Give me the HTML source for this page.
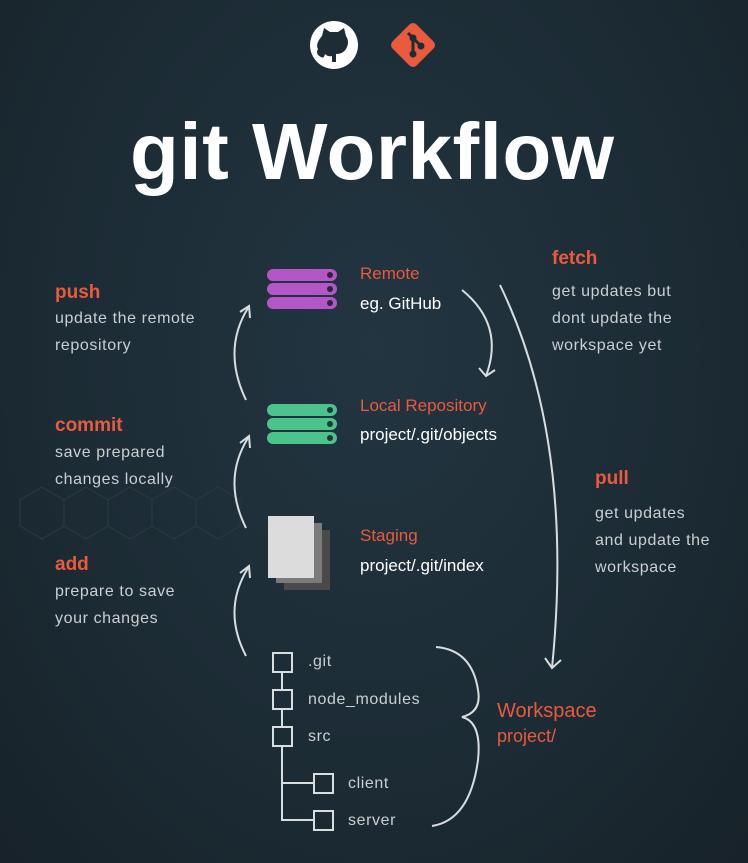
<!DOCTYPE html>
<html><head><meta charset="utf-8"><style>
html,body{margin:0;padding:0}
body{width:748px;height:863px;position:relative;overflow:hidden;background:radial-gradient(ellipse at 50% 40%,#223541 0%,#1c2b34 60%,#172229 100%);font-family:"Liberation Sans",sans-serif}
.t{position:absolute;white-space:nowrap}
.o{color:#ea5a3c;font-weight:bold;font-size:19px}
.g{color:#c9cfd3;font-size:16px;line-height:27px;letter-spacing:0.6px}
.w{color:#fff;font-size:17px}
.lo{color:#ea5a3c;font-size:17px}
</style></head><body>
<svg width="748" height="863" style="position:absolute;left:0;top:0">
<circle cx="334" cy="45" r="24" fill="#fff"/>
<path d="M322 36 l2-8 6 4 h8 l6-4 2 8 q4 6 0 13 q-3 5-10 5 v8 h-4 v-6 q-4 1-7-2 q-1 5 -4 3 q-6-3-3-8 q-3-5 4-13z" fill="#1e2c35"/>
<rect x="396" y="28" width="34" height="34" rx="5" fill="#ea5a3c" transform="rotate(45 413 45)"/>
<path d="M408 33 L413 38 V54 M413 38 L421 46" stroke="#1e2c35" stroke-width="3" fill="none"/>
<circle cx="413" cy="38" r="3.5" fill="#1e2c35"/><circle cx="413" cy="54" r="3.5" fill="#1e2c35"/><circle cx="421" cy="46" r="3.5" fill="#1e2c35"/>
<g fill="#b455c8"><rect x="267" y="269" width="70" height="12" rx="6"/><rect x="267" y="283" width="70" height="12" rx="6"/><rect x="267" y="297" width="70" height="12" rx="6"/></g>
<g fill="#2b2540"><circle cx="330" cy="275" r="3"/><circle cx="330" cy="289" r="3"/><circle cx="330" cy="303" r="3"/></g>
<g fill="#4cc38a"><rect x="267" y="404" width="70" height="12" rx="6"/><rect x="267" y="418" width="70" height="12" rx="6"/><rect x="267" y="432" width="70" height="12" rx="6"/></g>
<g fill="#1f3a30"><circle cx="330" cy="410" r="3"/><circle cx="330" cy="424" r="3"/><circle cx="330" cy="438" r="3"/></g>
<rect x="284" y="530" width="46" height="60" fill="#4a4a4a"/>
<rect x="276" y="523" width="46" height="60" fill="#7a7a7a"/>
<rect x="268" y="516" width="46" height="62" fill="#dcdcdc"/>
<g stroke="#273640" stroke-width="1.5" fill="none">
<path d="M20 500 l22-13 22 13 v26 l-22 13 -22-13z M64 500 l22-13 22 13 v26 l-22 13 -22-13z M108 500 l22-13 22 13 v26 l-22 13 -22-13z M152 500 l22-13 22 13 v26 l-22 13 -22-13z M196 500 l22-13 22 13 v26 l-22 13 -22-13z"/>
</g>
<g stroke="#d8dde0" stroke-width="2" fill="none">
<path d="M246 400 Q222 350 248 308"/><path d="M240 312 L249 306 L250 318"/>
<path d="M246 528 Q222 480 248 438"/><path d="M240 443 L249 436 L250 448"/>
<path d="M246 656 Q222 610 248 568"/><path d="M240 573 L249 566 L250 578"/>
<path d="M462 290 Q505 325 486 376"/><path d="M479 368 L486 376 L495 370"/>
<path d="M500 285 Q575 440 552 668"/><path d="M545 658 L552 668 L561 660"/>
<path d="M436 647 Q472 650 478 690 Q482 712 462 717 Q482 722 478 760 Q470 820 432 826"/>
<rect x="273" y="653" width="19" height="19"/><rect x="273" y="690" width="19" height="19"/><rect x="273" y="727" width="19" height="19"/>
<rect x="314" y="774" width="19" height="19"/><rect x="314" y="811" width="19" height="19"/>
<path d="M282 672 V690 M282 709 V727 M282 746 V820 H314 M282 783 H314"/>
</g>
</svg>
<div class="t" style="left:130px;top:106px;font-size:80px;font-weight:bold;color:#fff;letter-spacing:0.5px">git Workflow</div>
<div class="t o" style="left:55px;top:282px">push</div>
<div class="t g" style="left:55px;top:305px">update the remote<br>repository</div>
<div class="t o" style="left:55px;top:415px">commit</div>
<div class="t g" style="left:55px;top:439px">save prepared<br>changes locally</div>
<div class="t o" style="left:55px;top:554px">add</div>
<div class="t g" style="left:55px;top:578px">prepare to save<br>your changes</div>
<div class="t lo" style="left:360px;top:264px">Remote</div>
<div class="t w" style="left:360px;top:294px">eg. GitHub</div>
<div class="t lo" style="left:360px;top:396px">Local Repository</div>
<div class="t w" style="left:360px;top:425px">project/.git/objects</div>
<div class="t lo" style="left:360px;top:526px">Staging</div>
<div class="t w" style="left:360px;top:556px">project/.git/index</div>
<div class="t o" style="left:552px;top:248px">fetch</div>
<div class="t g" style="left:552px;top:278px">get updates but<br>dont update the<br>workspace yet</div>
<div class="t o" style="left:595px;top:468px">pull</div>
<div class="t g" style="left:595px;top:500px">get updates<br>and update the<br>workspace</div>
<div class="t lo" style="left:497px;top:700px;font-size:20px">Workspace</div>
<div class="t lo" style="left:497px;top:726px;font-size:18px">project/</div>
<div class="t g" style="left:308px;top:648px">.git</div>
<div class="t g" style="left:308px;top:686px">node_modules</div>
<div class="t g" style="left:308px;top:723px">src</div>
<div class="t g" style="left:348px;top:770px">client</div>
<div class="t g" style="left:348px;top:807px">server</div>
</body></html>
